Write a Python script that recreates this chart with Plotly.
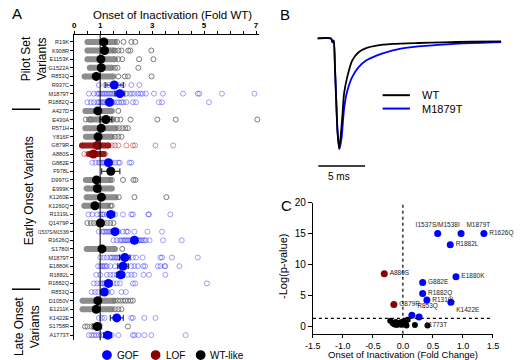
import plotly.graph_objects as go

W, H = 520, 360
def fx(px):
    return px / W
def fy(py):
    return 1 - py / H

# ---------------- Panel A data (fold of WT onset of inactivation) ----------------
row_labels = ["R19K", "K908R", "E1153K", "G1522A", "R853Q", "R937C", "M1879T", "R1882Q",
              "A427D", "E430A", "R571H", "Y816F", "G879R", "A880S", "G882E", "F978L",
              "D997G", "E999K", "K1260E", "K1260Q", "R1319L", "Q1479P", "I1537S/M1538I",
              "R1626Q", "S1780I", "M1879T", "E1880K", "R1882L", "R1882Q", "R853Q",
              "D1050V", "E1211K", "K1422E", "S1758R", "A1773T"]
row_groups = ["WT", "WT", "WT", "WT", "WT", "GOF", "GOF", "GOF",
              "WT", "WT", "WT", "WT", "LOF", "LOF", "GOF", "WT",
              "WT", "WT", "WT", "WT", "GOF", "WT", "GOF",
              "GOF", "WT", "GOF", "GOF", "GOF", "GOF", "GOF",
              "WT", "WT", "GOF", "WT", "GOF"]
row_means = [1.14, 1.17, 1.03, 1.04, 0.85, 1.54, 1.76, 1.36,
             0.91, 1.22, 1.04, 0.92, 0.89, 0.74, 1.32, 1.41,
             0.86, 0.89, 1.05, 0.80, 1.41, 1.01, 1.57,
             2.32, 1.07, 1.95, 1.88, 1.79, 1.32, 1.16,
             0.91, 0.85, 1.64, 0.89, 1.29]
row_sems = [0.12, 0.10, 0.08, 0.08, 0.08, 0.35, 0.19, 0.12,
            0.07, 0.23, 0.06, 0.07, 0.07, 0.06, 0.06, 0.35,
            0.08, 0.06, 0.07, 0.06, 0.12, 0.06, 0.08,
            0.09, 0.05, 0.20, 0.20, 0.15, 0.12, 0.08,
            0.08, 0.06, 0.25, 0.17, 0.15]
# dense clusters of overlapping cells (low / high ends), None where cells are spread out
band_lo = [0.51, 0.51, 0.51, 0.60, 0.40, None, None, None,
           0.43, 0.57, 0.43, 0.45, 0.30, 0.57, None, None,
           0.45, 0.48, 0.48, 0.39, None, None, None,
           None, 0.48, None, None, None, None, None,
           0.32, 0.32, None, None, None]
band_hi = [1.57, 1.51, 1.57, 1.45, 1.50, None, None, None,
           1.45, 1.50, 1.60, 1.45, 1.32, 1.14, None, None,
           1.39, 1.45, 1.60, 1.30, None, None, None,
           None, 1.57, None, None, None, None, None,
           1.51, 1.45, None, None, None]
row_points = [
    [1.65, 1.9, 2.2, 2.35],
    [1.57, 1.70, 1.82, 2.08, 2.16, 2.97],
    [1.70, 1.85, 2.50, 3.05],
    [1.57, 1.67, 2.47],
    [1.70, 1.95, 2.07, 2.98],
    [0.95, 1.20, 1.32, 1.51, 1.70, 1.88, 2.20, 2.51],
    [0.57, 0.76, 0.89, 0.95, 1.01, 1.08, 1.14, 1.20, 1.26, 1.33, 1.39, 1.45, 1.51, 1.58, 1.64,
     1.70, 1.82, 2.01, 2.13, 2.22, 2.32, 2.45, 2.55, 2.63, 2.76, 3.07, 3.42, 4.19, 4.76, 4.82,
     5.69, 6.94],
    [0.51, 0.64, 0.76, 0.89, 0.95, 1.01, 1.08, 1.14, 1.20, 1.26, 1.33, 1.45, 1.52, 1.64, 1.72,
     1.82, 1.90, 2.01, 2.26, 2.38, 3.26, 3.38, 5.19],
    [1.70],
    [0.45, 0.64, 1.65, 1.78, 2.17, 3.20, 3.91, 7.05],
    [1.72, 1.85, 1.97, 2.07],
    [1.57, 1.70, 1.82],
    [1.45, 1.57, 1.70, 2.01, 2.26, 2.34, 3.13, 3.81],
    [0.39, 0.51, 1.20],
    [0.70, 0.82, 0.95, 1.01, 1.08, 1.14, 1.20, 1.26, 1.39, 1.45, 1.57, 1.70, 1.76, 2.13, 2.20],
    [],
    [1.45, 1.88, 2.28, 2.36],
    [],
    [1.72, 2.32, 3.55],
    [1.39, 1.45],
    [0.55, 0.70, 0.89, 1.01, 1.08, 1.14, 1.26, 1.33, 1.39, 1.51, 1.57, 1.88, 2.20, 2.26, 2.85,
     2.88, 3.70],
    [0.51, 0.64, 0.76, 0.89, 0.95, 1.01, 1.08, 1.14, 1.26, 1.39, 1.51],
    [0.95, 1.08, 1.14, 1.20, 1.26, 1.33, 1.39, 1.45, 1.51, 1.64, 1.70, 1.88, 2.01, 2.07, 2.32,
     2.82, 3.38],
    [1.51, 1.64, 1.76, 1.82, 1.89, 1.95, 2.01, 2.07, 2.13, 2.20, 2.26, 2.45, 2.51, 2.57, 2.63,
     2.70, 2.76, 2.90, 3.42, 4.14],
    [1.85],
    [1.01, 1.14, 1.26, 1.39, 1.45, 1.51, 1.58, 1.64, 1.70, 1.76, 1.88, 2.07, 2.26, 2.38, 2.63,
     3.32, 3.38, 3.76, 4.76],
    [0.92, 1.01, 1.08, 1.14, 1.20, 1.26, 1.39, 1.57, 1.76, 2.01, 2.20, 2.32, 2.45, 2.66, 2.73,
     3.22, 3.32, 3.48, 3.51, 4.05],
    [0.85, 1.00, 1.26, 1.39, 1.51, 1.64, 1.76, 1.88, 2.07, 2.20, 2.32, 2.67, 2.88, 3.51],
    [0.76, 0.89, 1.01, 1.08, 1.14, 1.20, 1.26, 1.39, 1.51, 1.64, 1.76, 2.26, 2.35, 5.11],
    [0.67, 0.80, 0.92, 1.05, 1.17, 1.30, 1.45, 1.82, 1.99],
    [1.57, 1.68, 1.78, 1.88, 1.97, 2.07, 2.17, 2.26],
    [1.57, 1.70, 1.82],
    [0.95, 1.07, 1.17, 1.64, 1.70, 2.20, 2.26, 2.70, 3.13],
    [0.42, 0.51, 0.67, 0.76, 0.82, 0.89, 0.95, 2.07],
    [0.57, 0.67, 0.76, 0.85, 0.95, 1.05, 1.14, 1.26, 1.39, 1.45, 1.70, 2.26, 2.32, 2.47, 2.70,
     2.97, 4.29],
]
wt_reference = 1
a_tick_labels = [0, 1, 3, 5, 7]
a_tick_step = 0.5
a_x_max = 7.1
legend_names = ["GOF", "LOF", "WT-like"]
groups_order = ["GOF", "LOF", "WT"]

# ---------------- Panel B data (normalised current traces) ----------------
wt_t = [0, 1.46, 1.6, 1.74, 1.88, 1.98, 2.15, 2.33, 2.5, 2.67, 2.85, 3.19, 3.72, 4.41, 5.28,
        6.32, 8.05, 10.8, 13.5, 16.5, 19.7]
wt_i = [0, 0, -0.036, -0.02, -0.28, -0.50, -0.85, -1.0, -0.88, -0.70, -0.50, -0.35, -0.20,
        -0.125, -0.086, -0.065, -0.05, -0.041, -0.035, -0.03, -0.027]
mut_t = [0, 1.46, 1.6, 1.74, 1.88, 1.98, 2.15, 2.36, 2.57, 2.85, 3.12, 3.72, 4.41, 5.21, 6.32,
         7.71, 9.44, 10.8, 12.4, 15.5, 19.7]
mut_i = [0, 0, -0.03, -0.02, -0.26, -0.47, -0.83, -1.0, -0.91, -0.64, -0.50, -0.35, -0.26,
         -0.20, -0.155, -0.116, -0.086, -0.071, -0.062, -0.045, -0.033]
scale_bar_ms = 5
scale_bar_start = 0.1
scale_bar_level = -1.155

# ---------------- Panel C data (volcano) ----------------
gof_names = ["I1537S/M1538I", "M1879T", "R1626Q", "R1882L", "E1880K", "G882E", "R1882Q",
             "R1319L", "K1422E", "R853Q", "A1773T"]
gof_fc = [0.58, 0.97, 1.35, 0.79, 0.885, 0.33, 0.33, 0.40, 0.80, 0.15, 0.27]
gof_logp = [15, 15, 15, 13.2, 8.0, 7.1, 5.3, 4.25, 3.9, 1.8, 1.5]
gof_textpos = ["top center", "top right", "middle right", "middle right", "middle right",
               "middle right", "middle right", "middle right", "bottom right", "top right",
               "bottom right"]
lof_names = ["A880S", "G879R"]
lof_fc = [-0.31, -0.15]
lof_logp = [8.5, 3.55]
wtlike_fc = [-0.21, -0.17, -0.14, -0.12, -0.10, -0.08, -0.05, -0.03, 0.0, 0.02, 0.04, 0.06,
             0.08, 0.05, 0.20, 0.41]
wtlike_logp = [0.9, 0.5, 0.3, 0.7, 0.2, 0.45, 0.6, 0.25, 0.8, 0.35, 0.4, 0.15, 1.05, 0.9,
               0.2, 0.15]
p_threshold_logp = 1.301
fc_ticks = [-1.5, -1.0, -0.5, 0.0, 0.5, 1.0, 1.5]
logp_ticks = [0, 5, 10, 15, 20]

FONT = "Liberation Sans, Arial, sans-serif"
mean_colors = {"GOF": "#0000ff", "LOF": "#8b0000", "WT": "#000000"}
open_colors = {"GOF": "rgba(30,30,255,0.42)", "LOF": "rgba(160,20,20,0.45)",
               "WT": "rgba(110,110,110,0.9)"}
band_colors = {"LOF": "#9a1a1a", "WT": "#8c8c8c"}

fig = go.Figure()

# ---- Panel A traces
for g in ["WT", "LOF"]:
    bx, by = [], []
    for i, (lo, hi) in enumerate(zip(band_lo, band_hi)):
        if lo is None or row_groups[i] != g:
            continue
        bx += [lo, hi, None]
        by += [i, i, None]
    fig.add_trace(go.Scatter(x=bx, y=by, mode="lines+markers", xaxis="x", yaxis="y",
                             line=dict(color=band_colors[g], width=6),
                             marker=dict(size=6, color=band_colors[g]),
                             showlegend=False, hoverinfo="skip"))

for g in groups_order:
    px_, py_ = [], []
    for i, pts in enumerate(row_points):
        if row_groups[i] != g:
            continue
        px_ += pts
        py_ += [i] * len(pts)
    fig.add_trace(go.Scatter(x=px_, y=py_, mode="markers", xaxis="x", yaxis="y",
                             marker=dict(symbol="circle-open", size=5, color=open_colors[g],
                                         line=dict(width=1)),
                             showlegend=False, hoverinfo="skip", cliponaxis=False))

for g in groups_order:
    idx = [i for i in range(len(row_labels)) if row_groups[i] == g]
    fig.add_trace(go.Scatter(x=[row_means[i] for i in idx], y=idx, mode="markers",
                             xaxis="x", yaxis="y",
                             marker=dict(size=9, color=mean_colors[g]),
                             error_x=dict(type="data", array=[row_sems[i] for i in idx],
                                          color="#111111", thickness=1, width=3),
                             showlegend=False, hoverinfo="skip"))

# ---- Panel B traces
fig.add_trace(go.Scatter(x=mut_t, y=mut_i, mode="lines", xaxis="x2", yaxis="y2",
                         line=dict(color="#0000ff", width=1.8, shape="spline", smoothing=0.6),
                         showlegend=False, hoverinfo="skip"))
fig.add_trace(go.Scatter(x=wt_t, y=wt_i, mode="lines", xaxis="x2", yaxis="y2",
                         line=dict(color="#000000", width=1.8, shape="spline", smoothing=0.6),
                         showlegend=False, hoverinfo="skip"))
fig.add_trace(go.Scatter(x=[scale_bar_start, scale_bar_start + scale_bar_ms],
                         y=[scale_bar_level, scale_bar_level], mode="lines",
                         xaxis="x2", yaxis="y2", line=dict(color="black", width=1.5),
                         showlegend=False, hoverinfo="skip"))

# ---- Panel C traces
fig.add_trace(go.Scatter(x=wtlike_fc, y=wtlike_logp, mode="markers", xaxis="x3", yaxis="y3",
                         marker=dict(size=6, color="black"), showlegend=False,
                         hoverinfo="skip", cliponaxis=False))
fig.add_trace(go.Scatter(x=lof_fc, y=lof_logp, mode="markers+text", xaxis="x3", yaxis="y3",
                         text=lof_names, textposition="middle right",
                         textfont=dict(size=6.5, color="#222", family=FONT),
                         marker=dict(size=7, color="#8b0000"), showlegend=False,
                         hoverinfo="skip", cliponaxis=False))
fig.add_trace(go.Scatter(x=gof_fc, y=gof_logp, mode="markers+text", xaxis="x3", yaxis="y3",
                         text=gof_names, textposition=gof_textpos,
                         textfont=dict(size=6.5, color="#222", family=FONT),
                         marker=dict(size=7, color="#0000ff"), showlegend=False,
                         hoverinfo="skip", cliponaxis=False))

# ---- Axes
a_ticks = [k * a_tick_step for k in range(int(a_tick_labels[-1] / a_tick_step) + 1)]
a_text = [str(int(v)) if v in a_tick_labels else "" for v in a_ticks]
row_text = [("<span style='font-size:4.6px'>%s</span>" % l) if len(l) > 8 else l
            for l in row_labels]

fig.update_layout(
    width=W, height=H, margin=dict(l=0, r=0, t=0, b=0),
    paper_bgcolor="white", plot_bgcolor="white",
    font=dict(family=FONT, color="black"),
    showlegend=False,
    xaxis=dict(domain=[fx(68), fx(68 + 26.7 * a_x_max)], range=[0, a_x_max], side="top",
               anchor="y", tickvals=a_ticks, ticktext=a_text, ticks="outside", ticklen=3,
               tickwidth=1, tickcolor="black", showline=True, linecolor="black",
               linewidth=1, showgrid=False, zeroline=False,
               tickfont=dict(size=8, weight="bold")),
    yaxis=dict(domain=[fy(340), fy(29.5)], range=[len(row_labels) - 0.4, -0.8],
               anchor="x", tickvals=list(range(len(row_labels))), ticktext=row_text,
               ticks="outside", ticklen=3, tickwidth=1, tickcolor="black",
               showline=True, linecolor="black", linewidth=1, showgrid=False,
               zeroline=False, tickfont=dict(size=5.6, color="#222")),
    xaxis2=dict(domain=[fx(318), fx(507)], range=[0, 19.7], visible=False, anchor="y2"),
    yaxis2=dict(domain=[fy(175), fy(30)], range=[-1.264, 0.0267], visible=False,
                anchor="x2"),
    xaxis3=dict(domain=[fx(313.3), fx(498.3)], range=[-1.5, 1.5], anchor="y3",
                tickvals=fc_ticks, ticktext=["%.1f" % v for v in fc_ticks],
                ticks="outside", ticklen=3, tickwidth=1, tickcolor="black",
                showline=True, linecolor="black", linewidth=1, showgrid=False,
                zeroline=False, tickfont=dict(size=9)),
    yaxis3=dict(domain=[fy(333.3), fy(200)], range=[-1.2, 20], anchor="x3",
                tickvals=logp_ticks, ticks="outside", ticklen=4, tickwidth=1,
                tickcolor="black", showline=True, linecolor="black", linewidth=1,
                showgrid=False, zeroline=False, tickfont=dict(size=10)),
)

shapes = [
    dict(type="line", xref="x", yref="y domain", x0=wt_reference, x1=wt_reference, y0=0, y1=1,
         line=dict(color="black", width=1), layer="above"),
    dict(type="line", xref="paper", yref="paper", x0=fx(4), x1=fx(33), y0=fy(105), y1=fy(105),
         line=dict(color="black", width=1.5)),
    dict(type="line", xref="paper", yref="paper", x0=fx(4), x1=fx(33), y0=fy(288), y1=fy(288),
         line=dict(color="black", width=1.5)),
    dict(type="line", xref="x3", yref="y3 domain", x0=0, x1=0, y0=0, y1=1,
         line=dict(color="black", width=1.2, dash="dot")),
    dict(type="line", xref="x3 domain", yref="y3", x0=0, x1=1, y0=p_threshold_logp,
         y1=p_threshold_logp, line=dict(color="black", width=1.2, dash="dot")),
    # panel B legend keys
    dict(type="line", xref="paper", yref="paper", x0=fx(385), x1=fx(413), y0=fy(90.7),
         y1=fy(90.7), line=dict(color="black", width=2)),
    dict(type="line", xref="paper", yref="paper", x0=fx(385), x1=fx(413), y0=fy(104.3),
         y1=fy(104.3), line=dict(color="#0000ff", width=2)),
]
# panel A legend keys
for cx, g in zip([101.7, 151.7, 198], groups_order):
    shapes.append(dict(type="circle", xref="paper", yref="paper", x0=fx(cx - 5), x1=fx(cx + 5),
                       y0=fy(355 + 5), y1=fy(355 - 5), fillcolor=mean_colors[g],
                       line=dict(width=0)))
fig.update_layout(shapes=shapes)

def ann(text, x, y, size, xanchor="center", yanchor="middle", angle=0, **kw):
    return dict(text=text, x=fx(x), y=fy(y), xref="paper", yref="paper", showarrow=False,
                xanchor=xanchor, yanchor=yanchor, textangle=angle,
                font=dict(size=size, family=FONT, color="black"), **kw)

annotations = [
    ann("A", 2, 8, 15, xanchor="left"),
    ann("B", 277, 9, 15, xanchor="left"),
    ann("C", 278, 203, 15, xanchor="left"),
    ann("Onset of Inactivation (Fold WT)", 169.5, 9, 11.5),
    ann("Pilot Set<br>Variants", 27, 54, 12, angle=-90),
    ann("Early Onset Variants", 21, 188, 12, angle=-90),
    ann("Late Onset<br>Variants", 19, 326, 12, angle=-90),
    ann("WT", 423, 90.7, 11, xanchor="left"),
    ann("M1879T", 423, 104.3, 11, xanchor="left"),
    ann("%d ms" % scale_bar_ms, 340, 173, 10),
    ann("Onset of Inactivation (Fold Change)", 406, 354.5, 9.5),
    ann("-Log(p-value)", 282, 265, 11, angle=-90),
]
for tx, name in zip([110, 160, 206], legend_names):
    annotations.append(ann(name, tx, 355, 10, xanchor="left"))
fig.update_layout(annotations=annotations)

fig.write_html("out.html", config={"displayModeBar": False},
               post_script="document.body.style.margin='0';document.body.style.overflow='hidden';")
